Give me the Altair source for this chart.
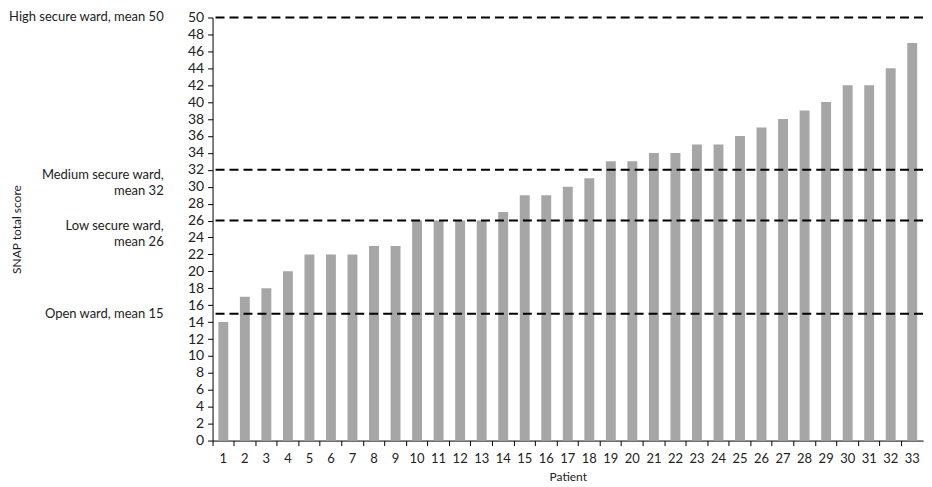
import altair as alt
import pandas as pd

patients = list(range(1, 34))
scores = [14, 17, 18, 20, 22, 22, 22, 23, 23, 26, 26, 26, 26, 27, 29, 29, 30, 31,
          33, 33, 34, 34, 35, 35, 36, 37, 38, 39, 40, 42, 42, 44, 47]
ward_means = [50, 32, 26, 15]
ward_labels = ["High secure ward, mean 50", "Medium secure ward,\nmean 32",
               "Low secure ward,\nmean 26", "Open ward, mean 15"]
ward_lines = [1, 2, 2, 1]
y_ticks = list(range(0, 51, 2))

bars_df = pd.DataFrame({"Patient": patients, "Score": scores})
wards_df = pd.DataFrame({"mean": ward_means, "label": ward_labels, "lines": ward_lines})

FONT = "Lato"
TXT = "#222222"
y_scale = alt.Scale(domain=[0, 50], nice=False, zero=True)
y_axis = alt.Axis(title="SNAP total score", values=y_ticks, grid=False,
                  labelOverlap=False, labelFlush=False,
                  tickSize=5, tickColor="black", domainColor="black",
                  labelFont=FONT, labelFontSize=14, labelColor=TXT,
                  labelPadding=4, titleFont=FONT, titleFontSize=12,
                  titleFontWeight="normal", titleColor=TXT,
                  titleX=-189, titleY=212, titleAngle=-90,
                  titleAlign="center", titleBaseline="bottom")

bars = alt.Chart(bars_df).mark_bar(color="#a6a6a6", width={"band": 0.46}).encode(
    x=alt.X("Patient:O", sort=None,
            scale=alt.Scale(paddingInner=0, paddingOuter=0),
            axis=alt.Axis(title="Patient", labelAngle=0, bandPosition=0,
                          tickSize=5, tickColor="black", domainColor="black",
                          labelFont=FONT, labelFontSize=13, labelColor=TXT,
                          labelPadding=7, titleFont=FONT, titleFontSize=12,
                          titleFontWeight="normal", titleColor=TXT, titlePadding=6)),
    y=alt.Y("Score:Q", scale=y_scale, axis=y_axis),
)

rules = alt.Chart(wards_df).mark_rule(color="black", strokeWidth=2, strokeDash=[9, 5]).encode(
    y=alt.Y("mean:Q", scale=y_scale, axis=y_axis)
)

text_style = dict(align="right", baseline="middle", lineBreak="\n", font=FONT,
                  fontSize=13, color=TXT, lineHeight=16)

labels_single = alt.Chart(wards_df).transform_filter("datum.lines == 1").mark_text(
    **text_style
).encode(
    x=alt.value(-49),
    y=alt.Y("mean:Q", scale=y_scale, axis=y_axis),
    text="label:N",
)

labels_double = alt.Chart(wards_df).transform_filter("datum.lines == 2").mark_text(
    dy=5, **text_style
).encode(
    x=alt.value(-49),
    y=alt.Y("mean:Q", scale=y_scale, axis=y_axis),
    text="label:N",
)

chart = alt.layer(bars, rules, labels_single, labels_double).properties(
    width=712, height=424, padding={"left": 0, "top": 2, "right": 0, "bottom": 0}
).configure_view(stroke=None)

chart.save("out.html", embed_options={"renderer": "svg", "actions": False})
